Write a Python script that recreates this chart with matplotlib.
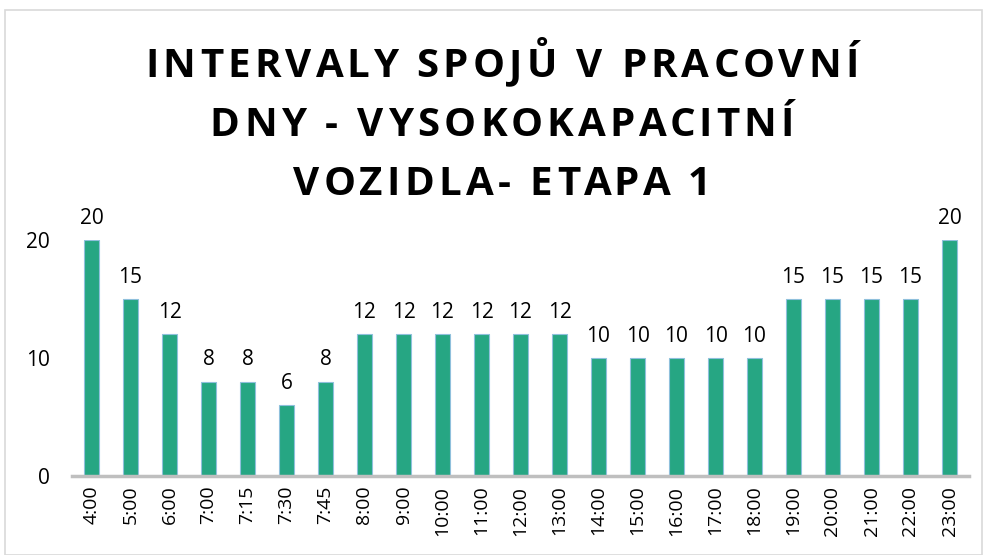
import matplotlib
matplotlib.use("Agg")
import matplotlib.pyplot as plt
from matplotlib.patches import Rectangle
from matplotlib.font_manager import FontProperties

categories = ["4:00", "5:00", "6:00", "7:00", "7:15", "7:30", "7:45", "8:00", "9:00", "10:00",
              "11:00", "12:00", "13:00", "14:00", "15:00", "16:00", "17:00", "18:00", "19:00",
              "20:00", "21:00", "22:00", "23:00"]
values = [20, 15, 12, 8, 8, 6, 8, 12, 12, 12, 12, 12, 12, 10, 10, 10, 10, 10, 15, 15, 15, 15, 20]
title_lines = ["INTERVALY SPOJŮ V PRACOVNÍ", "DNY - VYSOKOKAPACITNÍ", "VOZIDLA- ETAPA 1"]

plt.rcParams['font.family'] = ['Open Sans', 'DejaVu Sans']

W, H = 983, 555
fig = plt.figure(figsize=(W / 100, H / 100), dpi=100)
fig.patches.append(Rectangle((5 / W, 0), 1 - 6 / W, 1 - 10 / H, transform=fig.transFigure,
                             fill=False, edgecolor='#d9d9d9', linewidth=1.2))

ax = fig.add_axes([72 / W, 1 - 476 / H, 897 / W, 236 / H])
x = list(range(len(categories)))
ax.bar(x, values, width=0.39, color='#26a683', edgecolor='#8fc0dc', linewidth=0.8)
ax.set_xlim(-0.5, len(categories) - 0.5)
ax.set_ylim(0, 20)
ax.set_yticks([0, 10, 20])
ax.set_xticks(x)
ax.set_xticklabels(categories, rotation=90, fontsize=14)
ax.tick_params(axis='y', labelsize=15, length=0, pad=16)
ax.tick_params(axis='x', length=0, pad=7)
for s in ['top', 'right', 'left']:
    ax.spines[s].set_visible(False)
ax.spines['bottom'].set_color('#bfbfbf')
ax.spines['bottom'].set_linewidth(2.5)

for xi, v in zip(x, values):
    ax.annotate(str(v), (xi, v), xytext=(0, 8), textcoords='offset points',
                ha='center', va='bottom', fontsize=15, clip_on=False)

# title with letter spacing, drawn character by character on a shared baseline
prop = FontProperties(family=['Open Sans', 'DejaVu Sans'], weight='bold', size=29)
renderer = fig.canvas.get_renderer()
tracking = 4.3  # px between letters
baselines = [77, 136, 195]
cx = 502
for line, yb in zip(title_lines, baselines):
    prefix = []
    for i in range(len(line)):
        w = renderer.get_text_width_height_descent(line[:i], prop, ismath=False)[0] if i > 0 else 0
        prefix.append(w + i * tracking)
    total = renderer.get_text_width_height_descent(line, prop, ismath=False)[0]
    total += (len(line) - 1) * tracking
    x0 = cx - total / 2
    for ch, px in zip(line, prefix):
        if ch == ' ':
            continue
        fig.text((x0 + px) / W, 1 - yb / H, ch, ha='left', va='baseline',
                 fontproperties=prop, color='black')

fig.savefig("out.png", dpi=100)
